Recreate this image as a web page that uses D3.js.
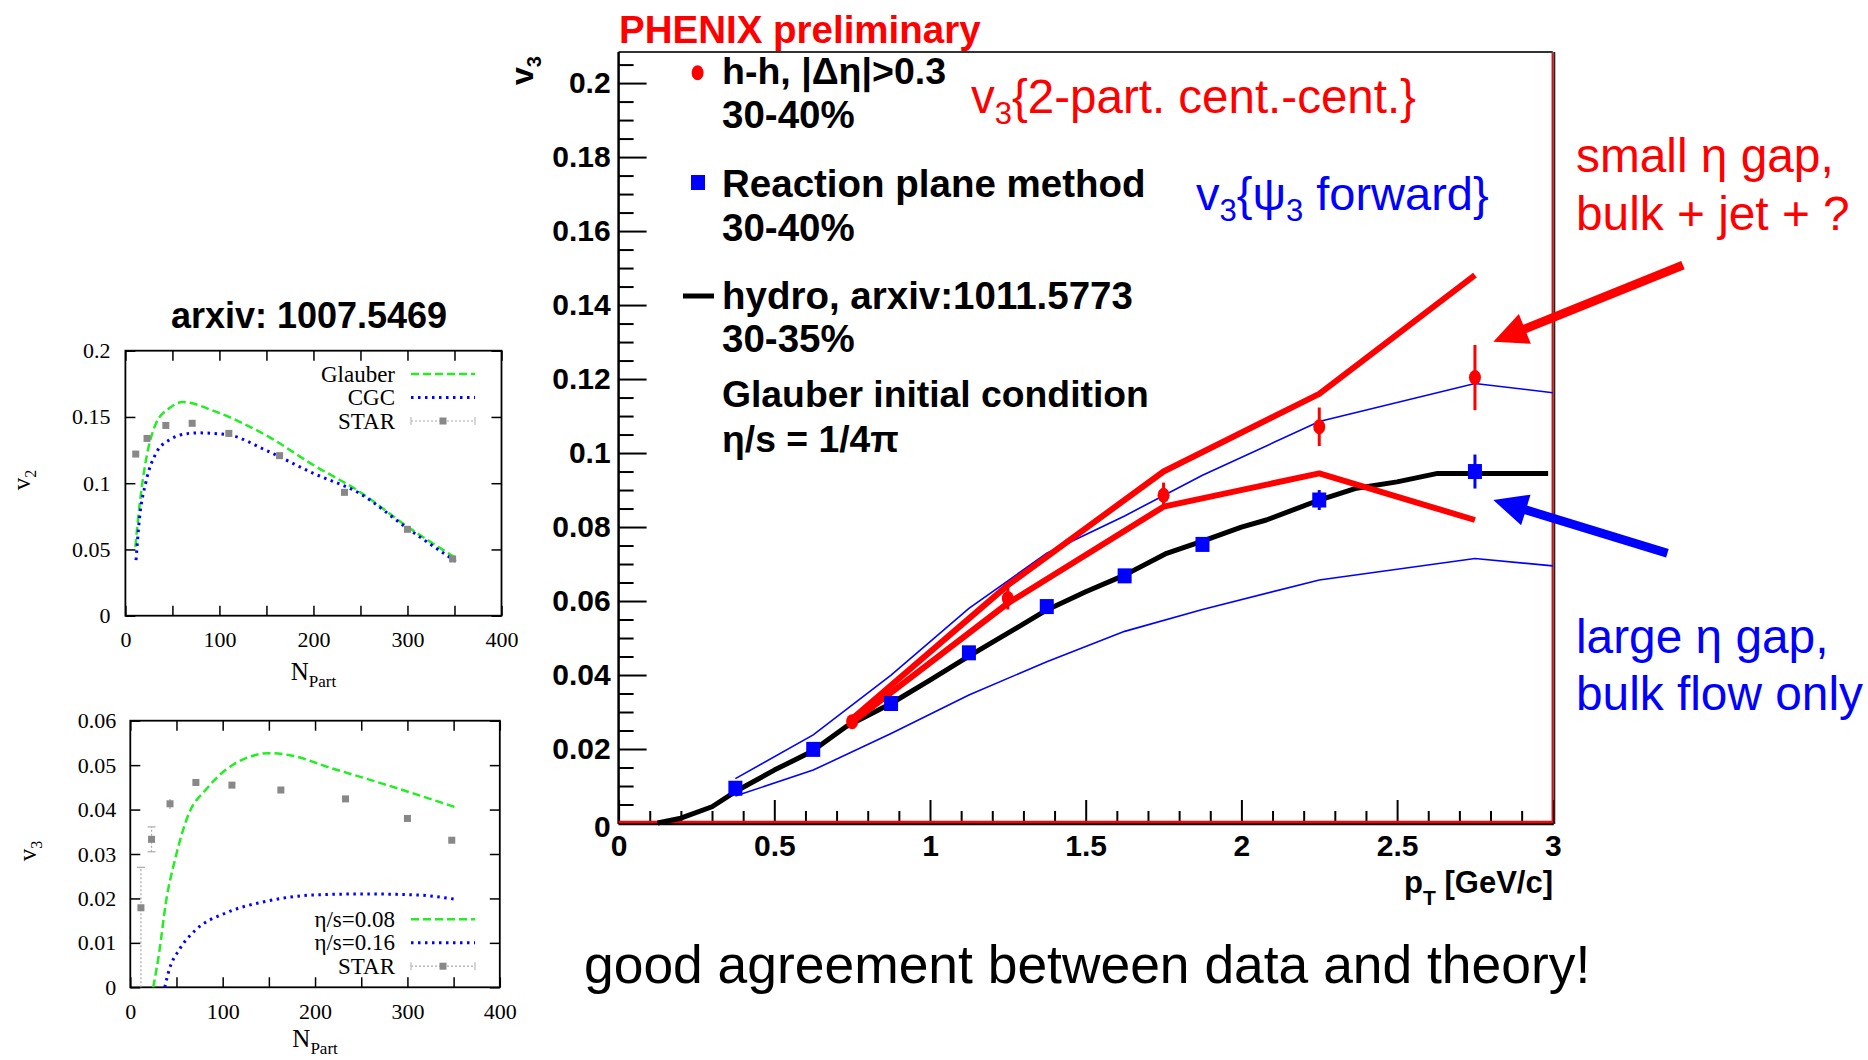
<!DOCTYPE html>
<html><head><meta charset="utf-8">
<script src="https://cdn.jsdelivr.net/npm/d3@7"></script>
<style>body{margin:0;background:#fff}svg{display:block}</style>
</head><body><svg id="c" width="1868" height="1060"></svg>
<script>
// ================= MAIN CHART DATA (v3 vs pT) =================
const rpPt   = [0.375, 0.625, 0.875, 1.125, 1.375, 1.625, 1.875, 2.25, 2.75];
const rpV3   = [0.0094, 0.0199, 0.0323, 0.0460, 0.0585, 0.0668, 0.0753, 0.0873, 0.0950];
const rpErr  = [0.0005, 0.0005, 0.0005, 0.0005, 0.0005, 0.0005, 0.0008, 0.0027, 0.0046];

const hhPt   = [0.75, 1.25, 1.75, 2.25, 2.75];
const hhV3   = [0.0274, 0.0607, 0.0886, 0.1071, 0.1204];
const hhErr  = [0.0010, 0.0030, 0.0034, 0.0052, 0.0088];
const hhSysHigh = [0.0282, 0.0643, 0.0950, 0.1160, 0.1481];
const hhSysLow  = [0.0272, 0.0594, 0.0855, 0.0945, 0.0819];

const rpSysPt   = [0.375, 0.625, 0.875, 1.125, 1.375, 1.625, 1.875, 2.25, 2.75, 3.0];
const rpSysHigh = [0.0120, 0.0238, 0.0400, 0.0580, 0.0729, 0.0830, 0.0940, 0.1085, 0.1188, 0.1163];
const rpSysLow  = [0.0073, 0.0143, 0.0242, 0.0346, 0.0436, 0.0518, 0.0577, 0.0657, 0.0715, 0.0695];

const hydroPt = [0.125, 0.2, 0.3, 0.375, 0.5, 0.62, 0.73, 0.875, 1.0, 1.125, 1.25, 1.375, 1.5, 1.625, 1.76, 1.875, 2.0, 2.08, 2.25, 2.37, 2.5, 2.63, 2.985];
const hydroV3 = [0.0, 0.0013, 0.0044, 0.0085, 0.0143, 0.0193, 0.0260, 0.0323, 0.0386, 0.0451, 0.0513, 0.0576, 0.0625, 0.0670, 0.0729, 0.0762, 0.0800, 0.0819, 0.0873, 0.0905, 0.0922, 0.0945, 0.0945];

const mainXTicks = [0, 0.5, 1, 1.5, 2, 2.5, 3];
const mainYTicks = [0, 0.02, 0.04, 0.06, 0.08, 0.1, 0.12, 0.14, 0.16, 0.18, 0.2];

// ================= LEFT TOP (v2 vs Npart) =================
const v2StarN = [11, 23, 43, 71, 110, 164, 233, 300, 348];
const v2Star  = [0.122, 0.1338, 0.1436, 0.1452, 0.1376, 0.1208, 0.0931, 0.0652, 0.0428];
const v2GlauberN = [10.6, 14.8, 21.9, 32.5, 46.6, 61, 96, 149, 200, 249, 300, 352];
const v2Glauber  = [0.052, 0.082, 0.1175, 0.145, 0.1565, 0.1612, 0.154, 0.1364, 0.1137, 0.0936, 0.0672, 0.0433];
const v2CgcN = [11.3, 14.8, 21.9, 32.5, 46.6, 67.7, 78, 110, 149, 200, 249, 300, 352];
const v2Cgc  = [0.042, 0.0722, 0.1011, 0.1225, 0.1326, 0.1376, 0.138, 0.1364, 0.125, 0.1074, 0.0923, 0.0659, 0.0407];
const v2XTicks = [0, 100, 200, 300, 400];
const v2YTicks = [0, 0.05, 0.1, 0.15, 0.2];

// ================= LEFT BOTTOM (v3 vs Npart) =================
const v3StarN  = [11.5, 23, 43, 71, 110, 163, 233, 300, 348];
const v3Star   = [0.0179, 0.0333, 0.0413, 0.0461, 0.0455, 0.0444, 0.0424, 0.0380, 0.0331];
const v3StarHi = [0.0091, 0.0028, 0.0012, 0.0006, 0.0005, 0.0005, 0.0005, 0.0005, 0.0005];
const v3StarLo = [0.0179, 0.0028, 0.0012, 0.0006, 0.0005, 0.0005, 0.0005, 0.0005, 0.0005];
const v3Eta008N = [24.8, 31.2, 38.4, 49.2, 63.6, 81.5, 103, 124.6, 149.7, 171, 218, 272, 352.6];
const v3Eta008  = [0, 0.0077, 0.0189, 0.0294, 0.0392, 0.0444, 0.0489, 0.0515, 0.0527, 0.0523, 0.0493, 0.0459, 0.0405];
const v3Eta016N = [37.3, 42, 52.8, 70.7, 103, 146, 200, 254, 308, 352.6];
const v3Eta016  = [0, 0.0039, 0.0084, 0.0129, 0.0167, 0.0193, 0.0208, 0.0210, 0.0208, 0.0198];
const v3XTicks = [0, 100, 200, 300, 400];
const v3YTicks = [0, 0.01, 0.02, 0.03, 0.04, 0.05, 0.06];

// ================= DRAWING =================
const svg = d3.select('#c');
svg.append('rect').attr('width', 1868).attr('height', 1060).attr('fill', '#fff');
const SANS = "'Liberation Sans', Arial, Helvetica, sans-serif";
const SERIF = "'Liberation Serif', 'Times New Roman', serif";
const RED = '#ff0000', BLUE = '#0000ff';

function richText(g, x, y, parts, attrs) {
  const t = g.append('text').attr('x', x).attr('y', y);
  for (const k in attrs) t.attr(k, attrs[k]);
  let shift = 0;
  parts.forEach(p => {
    const s = t.append('tspan').text(p.t);
    const target = p.sub || 0;
    if (target !== shift) { s.attr('dy', target - shift); shift = target; }
    if (p.size) s.attr('font-size', p.size);
  });
  return t;
}

// ---------- main chart ----------
const mx = d3.scaleLinear().domain([0, 3]).range([618.6, 1552.8]);
const my = d3.scaleLinear().domain([0, 0.2084]).range([823, 52]);
const M = svg.append('g');

const fmtMain = d => d === 0 ? '0' : String(+d.toFixed(2));
const yMinor = d3.range(0, 0.2051, 0.005).filter(v => Math.abs(v / 0.02 - Math.round(v / 0.02)) > 1e-6);
const xMinor = d3.range(0, 3.001, 0.1).filter(v => Math.abs(v / 0.5 - Math.round(v / 0.5)) > 1e-6);

const yAx = M.append('g').attr('transform', `translate(${mx(0)},0)`)
  .call(d3.axisLeft(my).tickValues(mainYTicks).tickSize(-28).tickPadding(8).tickFormat(fmtMain));
const yAxMin = M.append('g').attr('transform', `translate(${mx(0)},0)`)
  .call(d3.axisLeft(my).tickValues(yMinor).tickSize(-15).tickFormat(''));
const xAx = M.append('g').attr('transform', `translate(0,${my(0)})`)
  .call(d3.axisBottom(mx).tickValues(mainXTicks).tickSize(-23).tickPadding(12).tickFormat(fmtMain));
const xAxMin = M.append('g').attr('transform', `translate(0,${my(0)})`)
  .call(d3.axisBottom(mx).tickValues(xMinor).tickSize(-12).tickFormat(''));
[yAx, yAxMin, xAx, xAxMin].forEach(a => {
  a.select('.domain').remove();
  a.selectAll('line').attr('stroke', '#000').attr('stroke-width', 2);
  a.selectAll('text').attr('font-family', SANS).attr('font-weight', 'bold').attr('font-size', 30).attr('fill', '#000');
});
yAx.selectAll('text').filter(d => d === 0).attr('dy', '0.45em');

// frame
M.append('line').attr('x1', mx(0)).attr('x2', mx(3)).attr('y1', my(0.2084)).attr('y2', my(0.2084)).attr('stroke', '#333').attr('stroke-width', 2);
M.append('line').attr('x1', mx(0)).attr('x2', mx(0)).attr('y1', my(0.2084)).attr('y2', my(0) + 1).attr('stroke', '#000').attr('stroke-width', 2.5);
M.append('line').attr('x1', mx(0)).attr('x2', mx(3) + 1).attr('y1', my(0) + 1).attr('y2', my(0) + 1).attr('stroke', '#000').attr('stroke-width', 2.5);
M.append('line').attr('x1', mx(3) + 1.5).attr('x2', mx(3) + 1.5).attr('y1', my(0.2084)).attr('y2', my(0) + 1).attr('stroke', '#222').attr('stroke-width', 2);
M.append('line').attr('x1', mx(0)).attr('x2', mx(3)).attr('y1', my(0) - 1).attr('y2', my(0) - 1).attr('stroke', RED).attr('stroke-width', 2.5);
M.append('line').attr('x1', mx(3) - 0.5).attr('x2', mx(3) - 0.5).attr('y1', my(0.2084) + 1).attr('y2', my(0)).attr('stroke', RED).attr('stroke-width', 1.5);

const lineGen = d3.line().x(d => mx(d[0])).y(d => my(d[1]));
M.append('path').attr('d', lineGen(d3.zip(rpSysPt, rpSysHigh))).attr('fill', 'none').attr('stroke', BLUE).attr('stroke-width', 1.6);
M.append('path').attr('d', lineGen(d3.zip(rpSysPt, rpSysLow))).attr('fill', 'none').attr('stroke', BLUE).attr('stroke-width', 1.6);
M.append('path').attr('d', lineGen(d3.zip(hydroPt, hydroV3))).attr('fill', 'none').attr('stroke', '#000').attr('stroke-width', 5).attr('stroke-linejoin', 'round');
M.append('path').attr('d', lineGen(d3.zip(hhPt, hhSysHigh))).attr('fill', 'none').attr('stroke', RED).attr('stroke-width', 6).attr('stroke-linejoin', 'round');
M.append('path').attr('d', lineGen(d3.zip(hhPt, hhSysLow))).attr('fill', 'none').attr('stroke', RED).attr('stroke-width', 6).attr('stroke-linejoin', 'round');

const rpData = d3.zip(rpPt, rpV3, rpErr);
M.selectAll('.rpErr').data(rpData).enter().append('line')
  .attr('x1', d => mx(d[0])).attr('x2', d => mx(d[0]))
  .attr('y1', d => my(d[1] - d[2])).attr('y2', d => my(d[1] + d[2]))
  .attr('stroke', BLUE).attr('stroke-width', 3);
M.selectAll('.rp').data(rpData).enter().append('rect')
  .attr('x', d => mx(d[0]) - 7).attr('y', d => my(d[1]) - 7.5)
  .attr('width', 14).attr('height', 15).attr('fill', BLUE);

const hhData = d3.zip(hhPt, hhV3, hhErr);
M.selectAll('.hhErr').data(hhData).enter().append('line')
  .attr('x1', d => mx(d[0])).attr('x2', d => mx(d[0]))
  .attr('y1', d => my(d[1] - d[2])).attr('y2', d => my(d[1] + d[2]))
  .attr('stroke', RED).attr('stroke-width', 3);
M.selectAll('.hh').data(hhData).enter().append('ellipse')
  .attr('cx', d => mx(d[0])).attr('cy', d => my(d[1]))
  .attr('rx', 6).attr('ry', 7.5).attr('fill', RED);

richText(M, 0, 0, [{t: 'v'}, {t: '3', sub: 8, size: 20}],
  {transform: 'translate(533,56) rotate(-90)', 'text-anchor': 'end', 'font-family': SANS, 'font-weight': 'bold', 'font-size': 32});
richText(M, 1553, 893, [{t: 'p'}, {t: 'T', sub: 12, size: 21}, {t: ' [GeV/c]'}],
  {'text-anchor': 'end', 'font-family': SANS, 'font-weight': 'bold', 'font-size': 31});

M.append('text').attr('x', 619).attr('y', 43).text('PHENIX preliminary')
  .attr('font-family', SANS).attr('font-weight', 'bold').attr('font-size', 38.5).attr('fill', RED);

// legend
const L = M.append('g').attr('font-family', SANS).attr('font-weight', 'bold').attr('font-size', 38.5).attr('fill', '#000');
L.append('ellipse').attr('cx', 697.6).attr('cy', 72.7).attr('rx', 6).attr('ry', 7.5).attr('fill', RED);
L.append('text').attr('x', 722).attr('y', 84).attr('font-size', 37.5).text('h-h, |Δη|>0.3');
L.append('text').attr('x', 722).attr('y', 128).text('30-40%');
L.append('rect').attr('x', 691).attr('y', 175).attr('width', 14).attr('height', 15).attr('fill', BLUE);
L.append('text').attr('x', 722).attr('y', 197).text('Reaction plane method');
L.append('text').attr('x', 722).attr('y', 241).text('30-40%');
L.append('line').attr('x1', 683).attr('x2', 714).attr('y1', 296).attr('y2', 296).attr('stroke', '#000').attr('stroke-width', 5);
L.append('text').attr('x', 722).attr('y', 309).text('hydro, arxiv:1011.5773');
L.append('text').attr('x', 722).attr('y', 352).text('30-35%');
L.append('text').attr('x', 722).attr('y', 407).attr('font-size', 37.3).text('Glauber initial condition');
L.append('text').attr('x', 722).attr('y', 452).attr('font-size', 37.3).text('η/s = 1/4π');

// annotations
richText(svg, 971, 113, [{t: 'v'}, {t: '3', sub: 11, size: 31}, {t: '{2-part. cent.-cent.}'}],
  {'font-family': SANS, 'font-size': 47.5, fill: RED});
richText(svg, 1196, 210, [{t: 'v'}, {t: '3', sub: 11, size: 31}, {t: '{ψ'}, {t: '3', sub: 11, size: 31}, {t: ' forward}'}],
  {'font-family': SANS, 'font-size': 47, fill: BLUE});
const A = svg.append('g').attr('font-family', SANS).attr('font-size', 47.8);
A.append('text').attr('x', 1576).attr('y', 172).attr('fill', RED).text('small η gap,');
A.append('text').attr('x', 1576).attr('y', 230).attr('fill', RED).text('bulk + jet + ?');
A.append('text').attr('x', 1576).attr('y', 653).attr('fill', BLUE).text('large η gap,');
A.append('text').attr('x', 1576).attr('y', 710).attr('fill', BLUE).text('bulk flow only');
svg.append('text').attr('x', 584).attr('y', 983).attr('font-family', SANS).attr('font-size', 53.4).attr('fill', '#000')
  .text('good agreement between data and theory!');

// arrows (tail and tip in data coordinates of main chart)
const arrowsData = [
  {from: [3.418, 0.1508], to: [2.809, 0.1301], color: RED},
  {from: [3.368, 0.0729], to: [2.809, 0.0873], color: BLUE}
];
arrowsData.forEach(a => {
  const x1 = mx(a.from[0]), y1 = my(a.from[1]), x2 = mx(a.to[0]), y2 = my(a.to[1]);
  const dx = x2 - x1, dy = y2 - y1, len = Math.hypot(dx, dy);
  const ux = dx / len, uy = dy / len, px = -uy, py = ux;
  const hl = 34, hw = 16;
  const bx = x2 - ux * hl, by = y2 - uy * hl;
  svg.append('line').attr('x1', x1).attr('y1', y1).attr('x2', bx + ux * 2).attr('y2', by + uy * 2)
    .attr('stroke', a.color).attr('stroke-width', 9);
  svg.append('polygon').attr('points', [[x2, y2], [bx + px * hw, by + py * hw], [bx - px * hw, by - py * hw]].map(p => p.join(',')).join(' '))
    .attr('fill', a.color);
});

// ---------- small gnuplot charts ----------
function smallChart(cfg) {
  const g = svg.append('g');
  const x = d3.scaleLinear().domain([0, 400]).range(cfg.xr);
  const y = d3.scaleLinear().domain(cfg.yd).range(cfg.yr);
  const xt = d3.range(0, 401, 50);
  const axes = [
    g.append('g').attr('transform', `translate(0,${cfg.yr[0]})`).call(d3.axisBottom(x).tickValues(xt).tickSize(-10).tickPadding(16)
      .tickFormat(d => cfg.xt.includes(d) ? String(d) : '')),
    g.append('g').attr('transform', `translate(0,${cfg.yr[1]})`).call(d3.axisTop(x).tickValues(xt).tickSize(-10).tickFormat('')),
    g.append('g').attr('transform', `translate(${cfg.xr[0]},0)`).call(d3.axisLeft(y).tickValues(cfg.yt).tickSize(-10).tickPadding(cfg.ypad).tickFormat(cfg.fmt)),
    g.append('g').attr('transform', `translate(${cfg.xr[1]},0)`).call(d3.axisRight(y).tickValues(cfg.yt).tickSize(-10).tickFormat(''))
  ];
  axes.forEach(a => {
    a.select('.domain').remove();
    a.selectAll('line').attr('stroke', '#000').attr('stroke-width', 1.5);
    a.selectAll('text').attr('font-family', SERIF).attr('font-size', 22).attr('fill', '#000');
  });
  g.append('rect').attr('x', cfg.xr[0]).attr('y', cfg.yr[1]).attr('width', cfg.xr[1] - cfg.xr[0]).attr('height', cfg.yr[0] - cfg.yr[1])
    .attr('fill', 'none').attr('stroke', '#000').attr('stroke-width', 1.8);
  const lg = d3.line().x(d => x(d[0])).y(d => y(d[1])).curve(d3.curveMonotoneX);
  cfg.lines.forEach(l => {
    g.append('path').attr('d', lg(d3.zip(l.n, l.v))).attr('fill', 'none').attr('stroke', l.color)
      .attr('stroke-width', l.w).attr('stroke-dasharray', l.dash);
  });
  const sd = d3.zip(cfg.star.n, cfg.star.v, cfg.star.hi || cfg.star.n.map(() => 0.0006), cfg.star.lo || cfg.star.n.map(() => 0.0006));
  g.selectAll('.se').data(sd).enter().append('line')
    .attr('x1', d => x(d[0])).attr('x2', d => x(d[0])).attr('y1', d => y(d[1] - d[3])).attr('y2', d => y(d[1] + d[2]))
    .attr('stroke', '#aaa').attr('stroke-width', 1.2).attr('stroke-dasharray', '2,2');
  g.selectAll('.sc').data(sd.filter(d => d[2] > 0.002)).enter().append('line')
    .attr('x1', d => x(d[0]) - 4).attr('x2', d => x(d[0]) + 4).attr('y1', d => y(d[1] + d[2])).attr('y2', d => y(d[1] + d[2]))
    .attr('stroke', '#aaa').attr('stroke-width', 1.2);
  g.selectAll('.sc2').data(sd.filter(d => d[3] > 0.002 && d[3] < 0.01)).enter().append('line')
    .attr('x1', d => x(d[0]) - 4).attr('x2', d => x(d[0]) + 4).attr('y1', d => y(d[1] - d[3])).attr('y2', d => y(d[1] - d[3]))
    .attr('stroke', '#aaa').attr('stroke-width', 1.2);
  g.selectAll('.sp').data(sd).enter().append('rect')
    .attr('x', d => x(d[0]) - 3.5).attr('y', d => y(d[1]) - 3.5).attr('width', 7).attr('height', 7).attr('fill', '#888');
  const lx = 395, l1 = 411, l2 = 475;
  cfg.legend.forEach((e, i) => {
    const by = cfg.legY + i * 23.5;
    richText(g, lx, by, e.label, {'text-anchor': 'end', 'font-family': SERIF, 'font-size': 23, fill: '#000'});
    const ly = by - 7.5;
    if (e.star) {
      g.append('line').attr('x1', l1).attr('x2', l2).attr('y1', ly).attr('y2', ly).attr('stroke', '#aaa').attr('stroke-width', 1.2).attr('stroke-dasharray', '2,2');
      [l1, l2].forEach(xx => g.append('line').attr('x1', xx).attr('x2', xx).attr('y1', ly - 4).attr('y2', ly + 4).attr('stroke', '#bbb').attr('stroke-width', 1.2));
      g.append('rect').attr('x', 443 - 3.5).attr('y', ly - 3.5).attr('width', 7).attr('height', 7).attr('fill', '#888');
    } else {
      g.append('line').attr('x1', l1).attr('x2', l2).attr('y1', ly).attr('y2', ly).attr('stroke', e.color).attr('stroke-width', e.w).attr('stroke-dasharray', e.dash);
    }
  });
  richText(g, 0, 0, [{t: 'v'}, {t: cfg.vsub, sub: 6, size: 16}],
    {transform: `translate(${cfg.vx},${cfg.vy}) rotate(-90)`, 'text-anchor': 'middle', 'font-family': SERIF, 'font-size': 25, fill: '#000'});
  richText(g, (cfg.xr[0] + cfg.xr[1]) / 2, cfg.nY, [{t: 'N'}, {t: 'Part', sub: 7, size: 17}],
    {'text-anchor': 'middle', 'font-family': SERIF, 'font-size': 25, fill: '#000'});
  return g;
}

svg.append('text').attr('x', 309).attr('y', 328).attr('text-anchor', 'middle').attr('font-family', SANS)
  .attr('font-weight', 'bold').attr('font-size', 36).text('arxiv: 1007.5469');

const GREEN = '#22ee22';
smallChart({
  xr: [125.4, 501.5], yr: [615.7, 350.7], yd: [0, 0.2], yt: v2YTicks, xt: v2XTicks, ypad: 15,
  fmt: d => d === 0 ? '0' : String(+d.toFixed(2)),
  lines: [
    {n: v2GlauberN, v: v2Glauber, color: GREEN, w: 2.5, dash: '8,4'},
    {n: v2CgcN, v: v2Cgc, color: BLUE, w: 3, dash: '2.5,4.5'}
  ],
  star: {n: v2StarN, v: v2Star},
  legend: [
    {label: [{t: 'Glauber'}], color: GREEN, w: 2.5, dash: '8,4'},
    {label: [{t: 'CGC'}], color: BLUE, w: 3, dash: '2.5,4.5'},
    {label: [{t: 'STAR'}], star: true}
  ],
  legY: 381.5, vsub: '2', vx: 30, vy: 480, nY: 680
});
smallChart({
  xr: [130.3, 499.8], yr: [987.3, 720.7], yd: [0, 0.06], yt: v3YTicks, xt: v3XTicks, ypad: 14,
  fmt: d => d === 0 ? '0' : String(+d.toFixed(2)),
  lines: [
    {n: v3Eta008N, v: v3Eta008, color: GREEN, w: 2.5, dash: '8,4'},
    {n: v3Eta016N, v: v3Eta016, color: BLUE, w: 3, dash: '2.5,4.5'}
  ],
  star: {n: v3StarN, v: v3Star, hi: v3StarHi, lo: v3StarLo},
  legend: [
    {label: [{t: 'η/s=0.08'}], color: GREEN, w: 2.5, dash: '8,4'},
    {label: [{t: 'η/s=0.16'}], color: BLUE, w: 3, dash: '2.5,4.5'},
    {label: [{t: 'STAR'}], star: true}
  ],
  legY: 926.7, vsub: '3', vx: 36, vy: 851, nY: 1047
});
</script></body></html>
